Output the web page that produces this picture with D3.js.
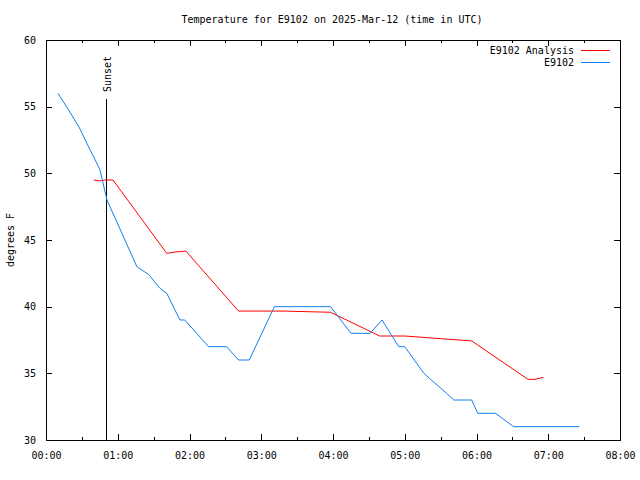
<!DOCTYPE html>
<html><head><meta charset="utf-8">
<script src="https://cdn.jsdelivr.net/npm/d3@7"></script>
<style>
body{margin:0;background:#fff;}
svg{display:block;}
text{font-family:"DejaVu Sans Mono","Liberation Mono",monospace;font-size:10px;fill:#000;}
</style></head>
<body>
<svg id="c" width="640" height="480"></svg>
<script>
const title = "Temperature for E9102 on 2025-Mar-12 (time in UTC)";
const yLabel = "degrees F";
const seriesNames = ["E9102 Analysis", "E9102"];
const seriesColors = ["#ff0000", "#1080f0"];
const xTickHours = [0,1,2,3,4,5,6,7,8];
const xTickLabels = ["00:00","01:00","02:00","03:00","04:00","05:00","06:00","07:00","08:00"];
const yTicks = [30,35,40,45,50,55,60];
const sunsetMinutes = 50;
const sunsetLabel = "Sunset";

// E9102 Analysis (minutes after 00:00 UTC, degrees F)
const analysisMinutes = [40,45,49,56,101,108,117,161,199,238,279,300,330,356,403,409,416];
const analysisTemps   = [49.5,49.43,49.5,49.5,44.0,44.1,44.17,39.67,39.67,39.58,37.8,37.8,37.6,37.43,34.55,34.55,34.7];

// E9102 observations
const obsMinutes = [10,20,28,35,45,51,76,86,95,101,112,116,136,151,161,170,191,238,255,271,281,295,300,316,321,335,341,356,361,376,391,446];
const obsTemps   = [56.0,54.6,53.4,52.1,50.3,48.0,43.0,42.4,41.4,41.0,39.0,39.0,37.0,37.0,36.0,36.0,40.0,40.0,38.0,38.0,39.0,37.0,37.0,35.0,34.6,33.5,33.0,33.0,32.0,32.0,31.0,31.0];

const svg = d3.select("#c");
const L = 46, R = 620, T = 40, B = 440;
const x = d3.scaleLinear().domain([0, 8*60]).range([L, R]);
const y = d3.scaleLinear().domain([30, 60]).range([B, T]);

// minor ticks (half hours)
const minorX = d3.range(0, 8).map(h => h*60 + 30);
svg.append("g").attr("transform", `translate(0,${B})`)
  .call(d3.axisBottom(x).tickValues(minorX).tickSize(-3).tickFormat(""))
  .call(g => g.select(".domain").remove());
svg.append("g").attr("transform", `translate(0,${T})`)
  .call(d3.axisTop(x).tickValues(minorX).tickSize(-3).tickFormat(""))
  .call(g => g.select(".domain").remove());

// major x ticks
svg.append("g").attr("transform", `translate(0,${B})`)
  .call(d3.axisBottom(x).tickValues(xTickHours.map(h => h*60)).tickSize(-6).tickPadding(12)
    .tickFormat((d,i) => xTickLabels[i]))
  .call(g => g.select(".domain").remove());
svg.append("g").attr("transform", `translate(0,${T})`)
  .call(d3.axisTop(x).tickValues(xTickHours.map(h => h*60)).tickSize(-6).tickFormat(""))
  .call(g => g.select(".domain").remove());

// y ticks
svg.append("g").attr("transform", `translate(${L},0)`)
  .call(d3.axisLeft(y).tickValues(yTicks).tickSize(-6).tickPadding(10).tickFormat(d3.format("d")))
  .call(g => g.select(".domain").remove());
svg.append("g").attr("transform", `translate(${R},0)`)
  .call(d3.axisRight(y).tickValues(yTicks).tickSize(-6).tickFormat(""))
  .call(g => g.select(".domain").remove());

svg.selectAll(".tick line").attr("stroke", "#000").attr("shape-rendering", "crispEdges");
svg.selectAll(".tick text").style("font-family", '"DejaVu Sans Mono","Liberation Mono",monospace').style("font-size", "10px").attr("fill", "#000");

// border
svg.append("rect").attr("x", L).attr("y", T).attr("width", R - L).attr("height", B - T)
  .attr("fill", "none").attr("stroke", "#000").attr("shape-rendering", "crispEdges");

// sunset marker
const sx = Math.round(x(sunsetMinutes)) + 0.5;
svg.append("line").attr("x1", sx).attr("x2", sx).attr("y1", 99).attr("y2", B)
  .attr("stroke", "#000").attr("stroke-width", 1).attr("shape-rendering", "crispEdges");
svg.append("text").attr("transform", `translate(${sx + 4},92) rotate(-90)`)
  .attr("text-anchor", "start").text(sunsetLabel);

// lines
const line = d3.line().x(d => x(d[0])).y(d => y(d[1]));
const analysis = analysisMinutes.map((m, i) => [m, analysisTemps[i]]);
const obs = obsMinutes.map((m, i) => [m, obsTemps[i]]);
svg.append("path").datum(analysis).attr("d", line).attr("fill", "none")
  .attr("stroke", seriesColors[0]).attr("stroke-width", 1);
svg.append("path").datum(obs).attr("d", line).attr("fill", "none")
  .attr("stroke", seriesColors[1]).attr("stroke-width", 1);

// legend
seriesNames.forEach((name, i) => {
  const ly = 50 + i * 12;
  svg.append("text").attr("x", 574).attr("y", ly + 4).attr("text-anchor", "end").text(name);
  svg.append("line").attr("x1", 581).attr("x2", 610).attr("y1", ly + 0.5).attr("y2", ly + 0.5)
    .attr("stroke", seriesColors[i]).attr("stroke-width", 1).attr("shape-rendering", "crispEdges");
});

// title & y label
svg.append("text").attr("x", 332).attr("y", 23).attr("text-anchor", "middle").text(title);
svg.append("text").attr("transform", "translate(14,240) rotate(-90)").attr("text-anchor", "middle").text(yLabel);
</script>
</body></html>
